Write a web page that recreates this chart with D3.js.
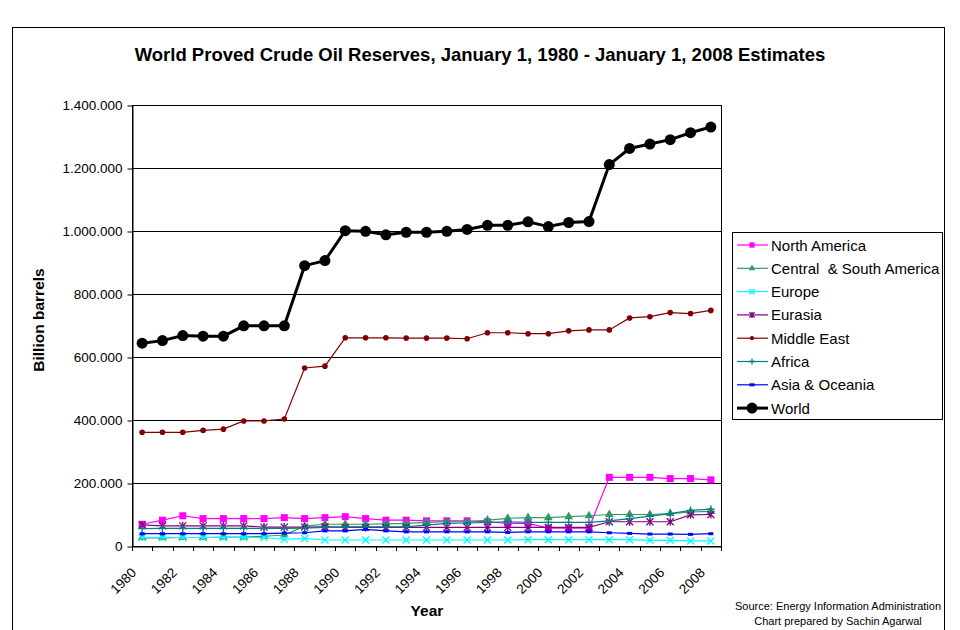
<!DOCTYPE html>
<html lang="en">
<head>
<meta charset="UTF-8">
<script src="https://cdnjs.cloudflare.com/ajax/libs/d3/7.8.5/d3.min.js"></script>
<style>
    body { margin: 0; background: #fff; }
    svg { display: block; font-family: Arial, "Liberation Sans", sans-serif; }
    text { white-space: pre; }
</style>
</head>
<body>
<svg id="chart" width="960" height="630"></svg>
<script>
    var years = [1980, 1981, 1982, 1983, 1984, 1985, 1986, 1987, 1988, 1989,
        1990, 1991, 1992, 1993, 1994, 1995, 1996, 1997, 1998, 1999,
        2000, 2001, 2002, 2003, 2004, 2005, 2006, 2007, 2008];
    var xLabels = ["1980", "1982", "1984", "1986", "1988", "1990", "1992", "1994",
        "1996", "1998", "2000", "2002", "2004", "2006", "2008"];

    // billion barrels
    var northAmerica = [69, 82, 96, 87, 87, 87, 87, 90, 87, 90, 93, 87, 82, 82, 80, 80, 80, 77, 72, 72, 57, 57, 57, 218, 218, 218, 214, 214, 210];
    var centralSouthAmerica = [26, 26, 27, 27, 28, 28, 31, 35, 63, 69, 69, 69, 70, 72, 75, 77, 77, 82, 88, 90, 90, 93, 96, 100, 100, 100, 103, 108, 110];
    var europe = [27, 27, 27, 27, 27, 27, 27, 21, 24, 19, 19, 19, 19, 19, 19, 19, 19, 19, 19, 20, 20, 20, 20, 20, 20, 18, 18, 16, 16];
    var eurasia = [67, 64, 64, 64, 64, 64, 60, 60, 60, 61, 59, 59, 59, 59, 59, 59, 59, 59, 59, 59, 59, 59, 59, 77, 77, 77, 77, 99, 100];
    var middleEast = [361, 361, 361, 367, 371, 397, 397, 403, 565, 571, 661, 661, 661, 660, 660, 660, 658, 677, 677, 674, 674, 683, 686, 686, 724, 728, 741, 738, 748];
    var africa = [55, 56, 56, 56, 56, 56, 56, 56, 57, 59, 61, 61, 61, 61, 66, 72, 73, 75, 77, 75, 75, 75, 75, 80, 87, 95, 103, 113, 117];
    var asiaOceania = [39, 39, 39, 39, 39, 39, 39, 41, 42, 48, 48, 53, 48, 45, 45, 45, 45, 45, 43, 45, 45, 45, 45, 42, 40, 38, 38, 37, 39];
    var world = [644, 652, 668, 666, 666, 699, 699, 699, 890, 906, 1001, 999, 988, 996, 996, 999, 1005, 1018, 1018, 1029, 1014, 1027, 1030, 1211, 1262, 1276, 1290, 1312, 1330];

    var yTicks = [0, 200, 400, 600, 800, 1000, 1200, 1400];
    var yTickLabels = ["0", "200.000", "400.000", "600.000", "800.000", "1.000.000", "1.200.000", "1.400.000"];

    var series = [
        {name: "North America", values: northAmerica, color: "#ff00ff", marker: "square"},
        {name: "Central  & South America", values: centralSouthAmerica, color: "#339966", marker: "triangle"},
        {name: "Europe", values: europe, color: "#00ffff", marker: "cross"},
        {name: "Eurasia", values: eurasia, color: "#800080", marker: "star"},
        {name: "Middle East", values: middleEast, color: "#800000", marker: "dot"},
        {name: "Africa", values: africa, color: "#008080", marker: "plus"},
        {name: "Asia & Oceania", values: asiaOceania, color: "#0000ff", marker: "dash"},
        {name: "World", values: world, color: "#000000", marker: "big"}
    ];

    var svg = d3.select("#chart");
    var plotLeft = 132, plotRight = 721, plotTop = 105, plotBottom = 546;

    var x = d3.scaleBand().domain(years).range([plotLeft, plotRight]);
    var y = d3.scaleLinear().domain([0, 1400]).range([plotBottom, plotTop]);

    // chart area border
    svg.append("rect")
        .attr("x", 12.5).attr("y", 27.5)
        .attr("width", 932).attr("height", 640)
        .attr("fill", "#fff").attr("stroke", "#000");

    svg.append("text")
        .attr("x", 480).attr("y", 61)
        .attr("text-anchor", "middle")
        .attr("font-size", 18.5).attr("font-weight", "bold")
        .text("World Proved Crude Oil Reserves, January 1, 1980 - January 1, 2008 Estimates");

    // gridlines
    svg.append("g").selectAll("line")
        .data(yTicks)
        .enter().append("line")
        .attr("x1", plotLeft).attr("x2", plotRight)
        .attr("y1", function (d) { return Math.round(y(d)) + 0.5; })
        .attr("y2", function (d) { return Math.round(y(d)) + 0.5; })
        .attr("stroke", "#000");

    svg.append("rect")
        .attr("x", plotLeft + 0.5).attr("y", plotTop + 0.5)
        .attr("width", plotRight - plotLeft).attr("height", plotBottom - plotTop)
        .attr("fill", "none").attr("stroke", "#000");

    // y axis
    var yAxis = svg.append("g")
        .attr("transform", "translate(" + (plotLeft + 0.5) + ",0.5)")
        .call(d3.axisLeft(y).tickValues(yTicks).tickSize(5).tickSizeOuter(0).tickPadding(5)
            .tickFormat(function (d, i) { return yTickLabels[i]; }));
    yAxis.select(".domain").attr("stroke", "#000");
    yAxis.selectAll("line").attr("stroke", "#000");
    yAxis.selectAll("text").attr("font-size", 13.5).attr("fill", "#000")
        .attr("font-family", "Arial, 'Liberation Sans', sans-serif");

    // x axis: labels at every second year, ticks between categories
    var xAxis = svg.append("g")
        .attr("transform", "translate(0," + (plotBottom + 0.5) + ")")
        .call(d3.axisBottom(x).tickSize(0).tickSizeOuter(0)
            .tickFormat(function (d) { return xLabels.indexOf(String(d)) >= 0 ? d : ""; }));
    xAxis.select(".domain").attr("stroke", "#000");
    xAxis.selectAll("text")
        .attr("font-size", 13.5).attr("fill", "#000")
        .attr("font-family", "Arial, 'Liberation Sans', sans-serif")
        .attr("text-anchor", "end")
        .attr("x", 0).attr("y", 0).attr("dy", 0)
        .attr("transform", "translate(-5,27) rotate(-45)");

    var edges = years.map(function (d) { return x(d); }).concat([plotRight]);
    svg.append("g").selectAll("line")
        .data(edges)
        .enter().append("line")
        .attr("x1", function (d) { return Math.round(d) + 0.5; })
        .attr("x2", function (d) { return Math.round(d) + 0.5; })
        .attr("y1", plotBottom).attr("y2", plotBottom + 5)
        .attr("stroke", "#000");

    svg.append("text")
        .attr("transform", "translate(44,320) rotate(-90)")
        .attr("text-anchor", "middle")
        .attr("font-size", 15.5).attr("font-weight", "bold")
        .text("Billion barrels");

    svg.append("text")
        .attr("x", 427).attr("y", 616)
        .attr("text-anchor", "middle")
        .attr("font-size", 15.5).attr("font-weight", "bold")
        .text("Year");

    function drawMarker(g, type, color, s) {
        s = s || 1;
        var a = 3.5 * s, b = 4 * s;
        if (type === "square") {
            g.append("rect").attr("x", -a).attr("y", -a)
                .attr("width", 2 * a).attr("height", 2 * a).attr("fill", color);
        } else if (type === "triangle") {
            g.append("path").attr("d", d3.symbol(d3.symbolTriangle, 34 * s * s)).attr("fill", color);
        } else if (type === "cross") {
            g.append("path").attr("d", "M" + -a + "," + -a + "L" + a + "," + a + "M" + -a + "," + a + "L" + a + "," + -a)
                .attr("stroke", color).attr("stroke-width", 1.3);
        } else if (type === "star") {
            g.append("path").attr("d", "M" + -a + "," + -a + "L" + a + "," + a + "M" + -a + "," + a + "L" + a + "," + -a +
                "M0," + -b + "L0," + b)
                .attr("stroke", color).attr("stroke-width", 1.3);
        } else if (type === "dot") {
            g.append("circle").attr("r", 2.8 * s).attr("fill", color);
        } else if (type === "plus") {
            g.append("path").attr("d", "M" + -b + ",0L" + b + ",0M0," + -b + "L0," + b)
                .attr("stroke", color).attr("stroke-width", 1.3);
        } else if (type === "dash") {
            g.append("rect").attr("x", -2.5).attr("y", -1.5)
                .attr("width", 5).attr("height", 3).attr("fill", color);
        } else if (type === "big") {
            g.append("circle").attr("r", 5.5 * s).attr("fill", color);
        }
    }

    var line = d3.line()
        .x(function (d, i) { return x(years[i]) + x.bandwidth() / 2; })
        .y(function (d) { return y(d); });

    series.forEach(function (s) {
        var g = svg.append("g");
        g.append("path")
            .datum(s.values)
            .attr("d", line)
            .attr("fill", "none")
            .attr("stroke", s.color)
            .attr("stroke-width", s.marker === "big" ? 3 : 1.2);
        g.selectAll("g.pt")
            .data(s.values)
            .enter().append("g")
            .attr("class", "pt")
            .attr("transform", function (d, i) {
                return "translate(" + (x(years[i]) + x.bandwidth() / 2) + "," + y(d) + ")";
            })
            .each(function () { drawMarker(d3.select(this), s.marker, s.color); });
    });

    // legend
    var legend = svg.append("g");
    legend.append("rect")
        .attr("x", 732.5).attr("y", 232.5)
        .attr("width", 210).attr("height", 187)
        .attr("fill", "#fff").attr("stroke", "#000");
    var rows = legend.selectAll("g.row")
        .data(series)
        .enter().append("g")
        .attr("class", "row")
        .attr("transform", function (d, i) { return "translate(752," + (245 + i * 23.3) + ")"; });
    rows.append("line")
        .attr("x1", -15).attr("x2", 16)
        .attr("stroke", function (d) { return d.color; })
        .attr("stroke-width", function (d) { return d.marker === "big" ? 3 : 1.2; });
    rows.each(function (d) { drawMarker(d3.select(this), d.marker, d.color, d.marker === "big" ? 1 : 0.75); });
    rows.append("text")
        .attr("x", 19).attr("y", 5.5)
        .attr("font-size", 15)
        .text(function (d) { return d.name; });

    svg.append("text")
        .attr("x", 838).attr("y", 610)
        .attr("text-anchor", "middle").attr("font-size", 11)
        .text("Source: Energy Information Administration");
    svg.append("text")
        .attr("x", 838).attr("y", 625)
        .attr("text-anchor", "middle").attr("font-size", 11)
        .text("Chart prepared by Sachin Agarwal");
</script>
</body>
</html>
